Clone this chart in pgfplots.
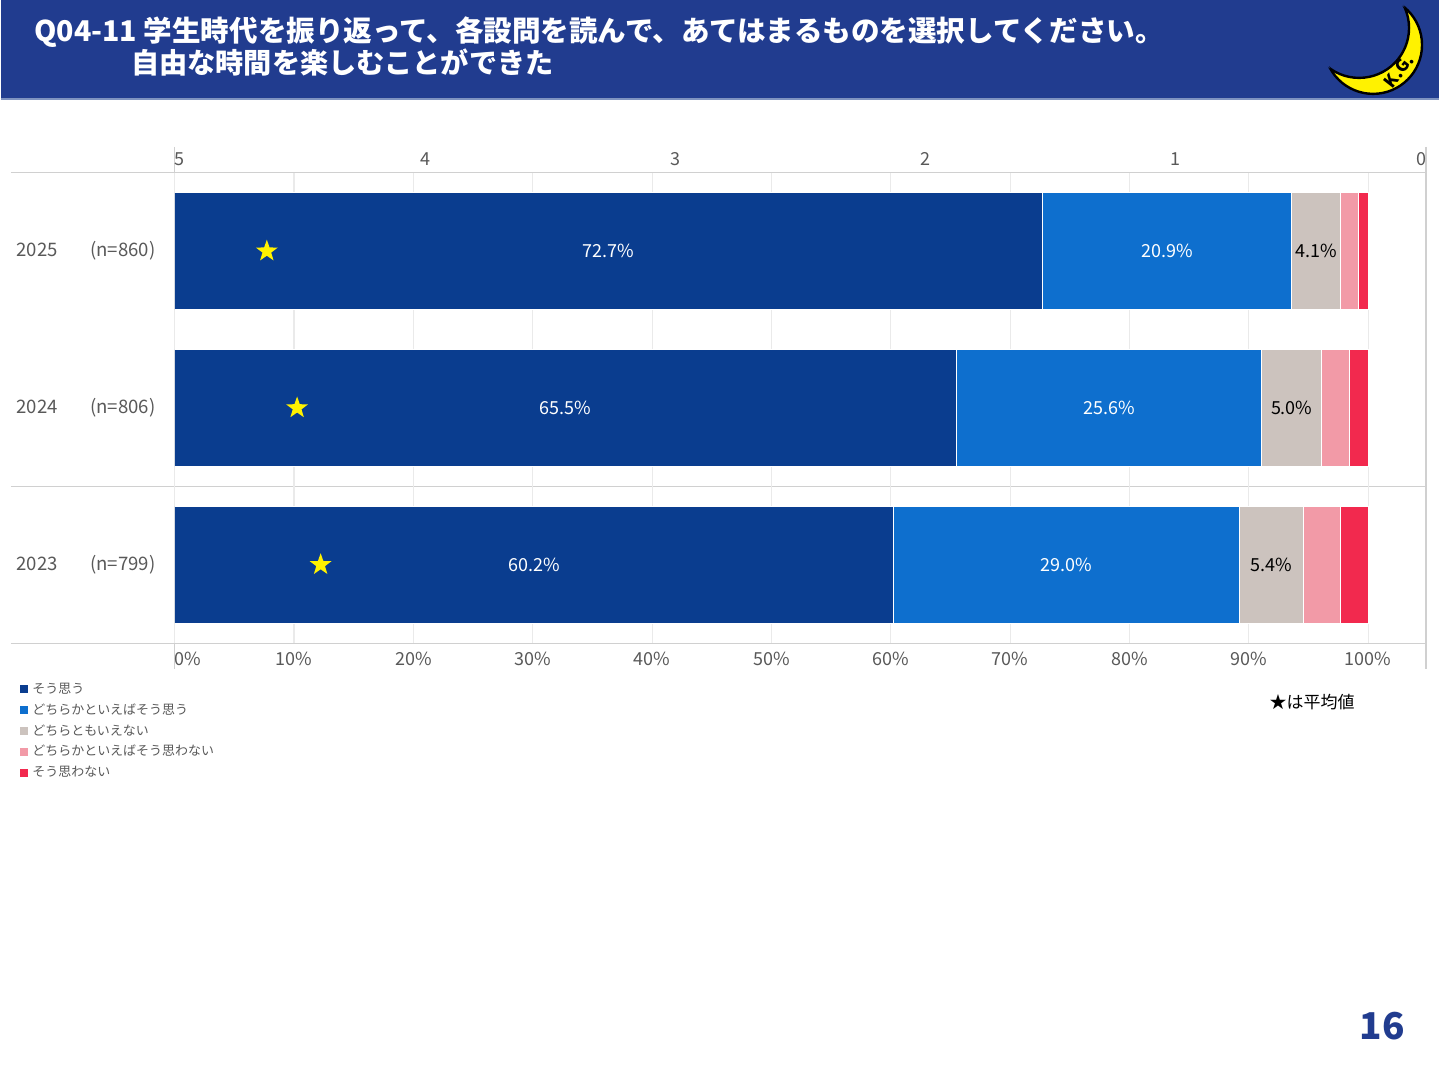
\documentclass[border=0pt]{standalone}
\usepackage{fontspec}
\setmainfont{Noto Sans CJK JP}
\usepackage{pgfplots}
\pgfplotsset{compat=1.18}
\usetikzlibrary{shapes.geometric}
\definecolor{c1}{HTML}{0A3D8F}
\definecolor{c2}{HTML}{0E6FCE}
\definecolor{c3}{HTML}{CCC3BE}
\definecolor{c4}{HTML}{F29AA7}
\definecolor{c5}{HTML}{F2294E}
\definecolor{titlebg}{HTML}{213C8F}
\definecolor{titleedge}{HTML}{7F93C0}
\definecolor{txtgray}{HTML}{595959}
\definecolor{gridc}{HTML}{EAEAEA}
\definecolor{linec}{HTML}{D0D0D0}
\pgfdeclareplotmark{ystar}{\node[star,star points=5,star point ratio=2.5,fill=yellow,draw=none,inner sep=0pt,minimum size=11.5pt]{};}
\begin{document}
\begin{tikzpicture}[x=0.5pt,y=-0.5pt]
\fill[white] (0,0) rectangle (1440,1080);
% title bar
\fill[titlebg] (0,0) rectangle (1440,98);
\draw[titleedge, line width=1pt] (0,99) -- (1440,99);
\node[anchor=base west, inner sep=0pt, text=white, font=\fontsize{14.3}{16}\selectfont\bfseries] at (33,42) {Q04-11 学生時代を振り返って、各設問を読んで、あてはまるものを選択してください。};
\node[anchor=base west, inner sep=0pt, text=white, font=\fontsize{14.1}{16}\selectfont\bfseries] at (130,74) {自由な時間を楽しむことができた};
% moon logo
\begin{scope}
\clip (1300,0) rectangle (1440,97);
\fill[yellow, draw=black, line width=1.2pt] (1374,45) circle[radius=24.5pt];
\fill[titlebg] (1360,28) circle[radius=25pt];
\begin{scope}
\clip (1374,45) circle[radius=24.5pt];
\draw[black, line width=1.2pt] (1360,28) circle[radius=25pt];
\end{scope}
\end{scope}
\node[rotate=52, font=\fontsize{8.5}{9}\selectfont\bfseries, inner sep=0pt] at (1400,71) {K.G.};
% frame lines
\draw[linec, line width=0.6pt] (10,173) -- (1427,173);
\draw[linec, line width=0.6pt] (10,487) -- (1427,487);
\draw[linec, line width=0.6pt] (10,644) -- (1427,644);
\draw[linec, line width=0.6pt] (174,147) -- (174,670);
\draw[linec, line width=0.6pt] (1427,147) -- (1427,670);
% main axis
\begin{axis}[
  at={(87pt,-322pt)}, anchor=south west,
  width=626.5pt, height=235.5pt, scale only axis,
  xbar stacked, bar width=58.5pt,
  xmin=0, xmax=104.85, ymin=-0.5, ymax=2.5,
  ytick={0,1,2},
  yticklabels={
    \makebox[69.5pt]{2023\hfill(n=799)},
    \makebox[69.5pt]{2024\hfill(n=806)},
    \makebox[69.5pt]{2025\hfill(n=860)}},
  yticklabel style={inner sep=0pt, xshift=-9.5pt, font=\fontsize{9.3}{11}\selectfont},
  xtick={0,10,...,100},
  xticklabels={\makebox[0pt][l]{0\%},10\%,20\%,30\%,40\%,50\%,60\%,70\%,80\%,90\%,100\%},
  xticklabel style={yshift=-1pt},
  xmajorgrids, grid style={gridc, line width=0.6pt},
  axis line style={draw=none},
  major tick length=0pt,
  tick label style={text=txtgray, font=\fontsize{9}{10}\selectfont},
  /pgf/number format/assume math mode=true,
  legend cell align=left,
  legend style={draw=none, fill=none, at={(-0.1285,-0.068)}, anchor=north west,
    font=\fontsize{6.5}{7}\selectfont, text=txtgray,
    nodes={text height=5pt, text depth=1pt, inner sep=2pt}, row sep=0.4pt},
  legend image code/.code={\fill[#1,draw=none] (0pt,-2pt) rectangle (4pt,2pt);},
]
\addplot[fill=c1, draw=white, line width=0.5pt] coordinates {(60.2,0) (65.5,1) (72.7,2)};
\addplot[fill=c2, draw=white, line width=0.5pt] coordinates {(29.0,0) (25.6,1) (20.9,2)};
\addplot[fill=c3, draw=white, line width=0.5pt] coordinates {(5.4,0) (5.0,1) (4.1,2)};
\addplot[fill=c4, draw=white, line width=0.5pt] coordinates {(3.1,0) (2.3,1) (1.5,2)};
\addplot[fill=c5, draw=white, line width=0.5pt] coordinates {(2.3,0) (1.6,1) (0.8,2)};
\legend{そう思う,どちらかといえばそう思う,どちらともいえない,どちらかといえばそう思わない,そう思わない}
\end{axis}
% label axis (same scale as main axis, drawn on top)
\begin{axis}[
  at={(87pt,-322pt)}, anchor=south west,
  width=626.5pt, height=235.5pt, scale only axis,
  xmin=0, xmax=104.85, ymin=-0.5, ymax=2.5,
  hide axis, clip=false,
]
\addplot[draw=none, forget plot] coordinates {(0,0) (100,2)};
\node[text=white, font=\fontsize{9}{10}\selectfont] at (axis cs:36.35,2) {72.7\%};
\node[text=white, font=\fontsize{9}{10}\selectfont] at (axis cs:83.15,2) {20.9\%};
\node[text=black, font=\fontsize{9}{10}\selectfont] at (axis cs:95.65,2) {4.1\%};
\node[text=white, font=\fontsize{9}{10}\selectfont] at (axis cs:32.75,1) {65.5\%};
\node[text=white, font=\fontsize{9}{10}\selectfont] at (axis cs:78.3,1) {25.6\%};
\node[text=black, font=\fontsize{9}{10}\selectfont] at (axis cs:93.6,1) {5.0\%};
\node[text=white, font=\fontsize{9}{10}\selectfont] at (axis cs:30.1,0) {60.2\%};
\node[text=white, font=\fontsize{9}{10}\selectfont] at (axis cs:74.7,0) {29.0\%};
\node[text=black, font=\fontsize{9}{10}\selectfont] at (axis cs:91.9,0) {5.4\%};
\end{axis}
% average axis (top scale)
\begin{axis}[
  at={(87pt,-322pt)}, anchor=south west,
  width=626.5pt, height=235.5pt, scale only axis,
  xmin=0, xmax=5, x dir=reverse, ymin=-0.5, ymax=2.5,
  axis x line*=top, hide y axis,
  xtick={0,1,2,3,4,5},
  xticklabels={\makebox[0pt][r]{0},1,2,3,4,\makebox[0pt][l]{5}},
  axis line style={draw=none},
  major tick length=0pt,
  tick label style={text=txtgray, font=\fontsize{9}{10}\selectfont},
  /pgf/number format/assume math mode=true,
  clip=false,
]
\addplot[only marks, mark=ystar] coordinates {(4.632,2) (4.511,1) (4.417,0)};
\end{axis}
% note and page number
\node[anchor=west, inner sep=0pt, font=\fontsize{8.5}{10}\selectfont] at (1270,703) {★は平均値};
\node[inner sep=0pt, text=titlebg, font=\fontsize{18.5}{20}\selectfont\bfseries] at (1383,1028) {16};
\end{tikzpicture}
\end{document}
